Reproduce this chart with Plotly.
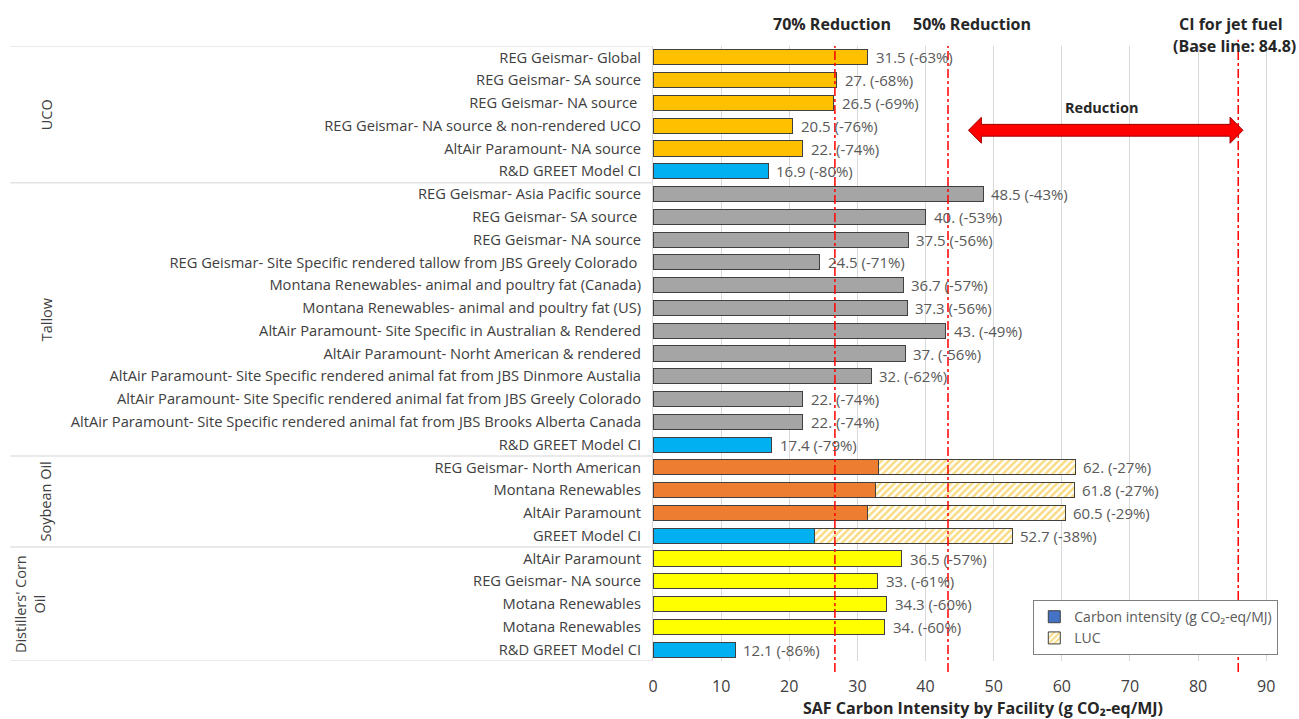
import plotly.graph_objects as go

FONT = "Open Sans"
BASELINE = 84.8

group_names = ["UCO", "Tallow", "Soybean Oil", "Distillers' Corn<br>Oil"]

uco_names = ["REG Geismar- Global", "REG Geismar- SA source", "REG Geismar- NA source ",
             "REG Geismar- NA source & non-rendered UCO", "AltAir Paramount- NA source",
             "R&D GREET Model CI"]
uco_ci = [31.5, 27.0, 26.5, 20.5, 22.0, 16.9]
uco_luc = [None] * 6
uco_text = ["31.5 (-63%)", "27. (-68%)", "26.5 (-69%)", "20.5 (-76%)", "22. (-74%)", "16.9 (-80%)"]

tallow_names = ["REG Geismar- Asia Pacific source", "REG Geismar- SA source ", "REG Geismar- NA source",
                "REG Geismar- Site Specific rendered tallow from JBS Greely Colorado ",
                "Montana Renewables- animal and poultry fat (Canada)",
                "Montana Renewables- animal and poultry fat (US)",
                "AltAir Paramount- Site Specific in Australian & Rendered",
                "AltAir Paramount- Norht American & rendered",
                "AltAir Paramount- Site Specific rendered animal fat from JBS Dinmore Austalia",
                "AltAir Paramount- Site Specific rendered animal fat from JBS Greely Colorado",
                "AltAir Paramount- Site Specific rendered animal fat from JBS Brooks Alberta Canada",
                "R&D GREET Model CI"]
tallow_ci = [48.5, 40.0, 37.5, 24.5, 36.7, 37.3, 43.0, 37.0, 32.0, 22.0, 22.0, 17.4]
tallow_luc = [None] * 12
tallow_text = ["48.5 (-43%)", "40. (-53%)", "37.5 (-56%)", "24.5 (-71%)", "36.7 (-57%)", "37.3 (-56%)",
               "43. (-49%)", "37. (-56%)", "32. (-62%)", "22. (-74%)", "22. (-74%)", "17.4 (-79%)"]

soy_names = ["REG Geismar- North American", "Montana Renewables", "AltAir Paramount", "GREET Model CI"]
soy_ci = [33.1, 32.7, 31.5, 23.7]
soy_luc = [28.9, 29.1, 29.0, 29.0]
soy_text = ["62. (-27%)", "61.8 (-27%)", "60.5 (-29%)", "52.7 (-38%)"]

corn_names = ["AltAir Paramount", "REG Geismar- NA source", "Motana Renewables", "Motana Renewables",
              "R&D GREET Model CI"]
corn_ci = [36.5, 33.0, 34.3, 34.0, 12.1]
corn_luc = [None] * 5
corn_text = ["36.5 (-57%)", "33. (-61%)", "34.3 (-60%)", "34. (-60%)", "12.1 (-86%)"]

group_colors = ["#FFC000", "#A5A5A5", "#ED7D31", "#FFFF00"]
GREET_COLOR = "#00B0F0"

# reference lines
ref_lines = [26.7, 43.3, 85.9]
# header labels (text, x centre, paper y)
header_text = ["70% Reduction", "50% Reduction", "CI for jet fuel", "(Base line: 84.8)"]
header_x = [26.3, 46.8, 84.8, 85.3]
header_y = [1.036, 1.036, 1.036, 1.0]

x_title = "SAF Carbon Intensity by Facility (g CO₂-eq/MJ)"

# reduction arrow (x start, x end, row)
arrow_x0, arrow_x1, arrow_row = 46.3, 86.6, 3.2

groups = [
    (uco_names, uco_ci, uco_luc, uco_text),
    (tallow_names, tallow_ci, tallow_luc, tallow_text),
    (soy_names, soy_ci, soy_luc, soy_text),
    (corn_names, corn_ci, corn_luc, corn_text),
]

names, ci, luc, texts, colors, bounds = [], [], [], [], [], [-0.5]
for gi, (n, c, l, t) in enumerate(groups):
    names += n
    ci += c
    luc += l
    texts += t
    colors += [GREET_COLOR if "GREET" in s else group_colors[gi] for s in n]
    bounds.append(bounds[-1] + len(n))
rows = list(range(len(names)))

fig = go.Figure()
fig.add_trace(go.Bar(
    y=rows, x=ci, orientation="h", marker=dict(color=colors, line=dict(color="#404040", width=1)),
    showlegend=False, name="CI"))
fig.add_trace(go.Bar(
    y=rows, x=luc, orientation="h", name="LUC",
    marker=dict(color="white", line=dict(color="#404040", width=1),
                pattern=dict(shape="/", fgcolor="#F2B705", bgcolor="white", size=5, solidity=0.5))))
# legend swatch for carbon intensity
fig.add_trace(go.Bar(y=[None], x=[None], orientation="h", name="Carbon intensity (g CO₂-eq/MJ)",
                     marker=dict(color="#4472C4", line=dict(color="#404040", width=1))))

ann = []
for i, (c, l, t) in enumerate(zip(ci, luc, texts)):
    ann.append(dict(x=c + (l or 0), y=i, xref="x", yref="y", text=t, showarrow=False,
                    xanchor="left", xshift=6, font=dict(family=FONT, size=15, color="#595959")))

for gi, g in enumerate(group_names):
    center = (bounds[gi] + bounds[gi + 1]) / 2
    ann.append(dict(x=-0.978 if "<br>" in g else -0.953, y=center, xref="paper", yref="y", text=g,
                    showarrow=False, textangle=-90, xanchor="center", yanchor="middle",
                    font=dict(family=FONT, size=14.5, color="#404040")))

for t, x, y in zip(header_text, header_x, header_y):
    ann.append(dict(x=x, y=y, xref="x", yref="paper", text=f"<b>{t}</b>", showarrow=False,
                    xanchor="center", yanchor="middle",
                    font=dict(family=FONT, size=16, color="#262626")))
ann.append(dict(x=(arrow_x0 + arrow_x1) / 2 - 0.5, y=arrow_row - 1.0, xref="x", yref="y",
                text="<b>Reduction</b>", showarrow=False,
                font=dict(family=FONT, size=14.5, color="#262626")))
ann.append(dict(x=0.518, y=-0.076, xref="paper", yref="paper", text=f"<b>{x_title}</b>",
                showarrow=False, xanchor="center", yanchor="middle",
                font=dict(family=FONT, size=16, color="#262626")))

shapes = []
for b in bounds:
    shapes.append(dict(type="line", xref="paper", yref="y", x0=-1.009, x1=0, y0=b, y1=b,
                       line=dict(color="#E3E3E3", width=1.5)))
for x in ref_lines:
    shapes.append(dict(type="line", xref="x", yref="paper", x0=x, x1=x, y0=-0.018,
                       y1=1.0 if x < 80 else 1.01,
                       line=dict(color="#FF0000", width=1.5, dash="dashdot")))

h, H, s = 1.9, 0.57, 0.26
yc = arrow_row
path = (f"M {arrow_x0},{yc} L {arrow_x0 + h},{yc - H} L {arrow_x0 + h},{yc - s} "
        f"L {arrow_x1 - h},{yc - s} L {arrow_x1 - h},{yc - H} L {arrow_x1},{yc} "
        f"L {arrow_x1 - h},{yc + H} L {arrow_x1 - h},{yc + s} L {arrow_x0 + h},{yc + s} "
        f"L {arrow_x0 + h},{yc + H} Z")
shapes.append(dict(type="path", xref="x", yref="y", path=path, fillcolor="#FF0000",
                   line=dict(color="#A00000", width=1)))

fig.update_layout(
    width=1299, height=719, barmode="stack", bargap=0.34,
    margin=dict(l=653, r=9, t=46, b=58),
    plot_bgcolor="white", paper_bgcolor="white",
    font=dict(family=FONT, size=14, color="#404040"),
    annotations=ann, shapes=shapes,
    legend=dict(x=0.597, y=0.099, xanchor="left", yanchor="top", bgcolor="white",
                bordercolor="#7F7F7F", borderwidth=1, traceorder="reversed",
                font=dict(family=FONT, size=14, color="#595959"), tracegroupgap=0),
    xaxis=dict(range=[0, 93.5], tickvals=list(range(0, 91, 10)), showgrid=True, gridcolor="#D9D9D9",
               zeroline=False, showline=False, ticks="outside", ticklen=11, tickcolor="rgba(0,0,0,0)",
               automargin=False, tickfont=dict(family=FONT, size=16, color="#404040")),
    yaxis=dict(range=[bounds[-1], bounds[0]], tickvals=rows, ticktext=names, showgrid=False,
               zeroline=False, showline=True, linecolor="#D9D9D9", ticks="outside", ticklen=8,
               automargin=False,
               tickcolor="rgba(0,0,0,0)", tickfont=dict(family=FONT, size=14.7, color="#404040")),
)

fig.write_html("out.html", config={"displayModeBar": False},
               post_script="document.body.style.margin='0px';")
